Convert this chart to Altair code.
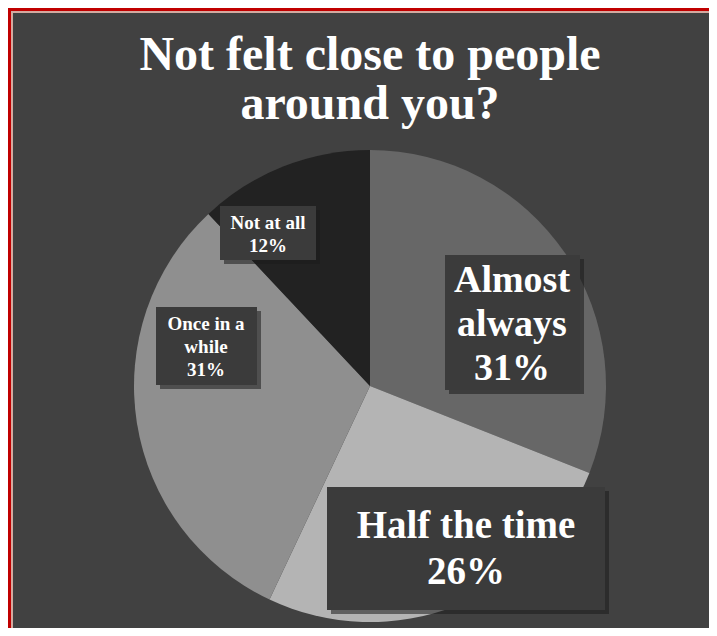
import altair as alt
import pandas as pd

# ---- data ----
categories = ["Almost always", "Half the time", "Once in a while", "Not at all"]
values = [31, 26, 31, 12]
slice_colors = ["#676767", "#b4b4b4", "#8f8f8f", "#222222"]
label_text = ["Almost\nalways", "Half  the time", "Once in a\nwhile", "Not at all"]
title_lines = ["Not felt close to people", "around you?"]

# ---- layout (chart pixel coordinates, page offset 8px) ----
W, H = 701, 620
CX, CY, R = 362, 378, 236
# box: x1, x2, y1, y2 ; text: x, first baseline y, font size, line height
box_layout = {
    "Almost always": (437, 572, 247, 382, 504, 284, 38, 44),
    "Half the time": (319, 597, 479, 602, 458, 530, 39, 46),
    "Once in a while": (148, 249, 299, 377, 198, 322, 19, 23),
    "Not at all": (212, 308, 198, 252, 260, 221, 19, 23),
}

pie_df = pd.DataFrame({
    "category": categories,
    "value": values,
    "idx": list(range(len(categories))),
})

lab_rows = []
for c, v, t in zip(categories, values, label_text):
    x1, x2, y1, y2, tx, ty, fs, lh = box_layout[c]
    lab_rows.append({"category": c, "text": f"{t}\n{v}%", "x1": x1, "x2": x2,
                     "y1": y1, "y2": y2, "tx": tx, "ty": ty, "fs": fs, "lh": lh})
lab_df = pd.DataFrame(lab_rows)

xs = alt.Scale(domain=[0, W], range=[0, W])
ys = alt.Scale(domain=[0, H], range=[0, H])

one = pd.DataFrame({"a": [0]})
red_left = alt.Chart(one).mark_rect(color="#c00000").encode(
    x=alt.value(0), x2=alt.value(3), y=alt.value(0), y2=alt.value(H + 40))
red_top = alt.Chart(one).mark_rect(color="#c00000").encode(
    x=alt.value(0), x2=alt.value(W + 40), y=alt.value(0), y2=alt.value(3))
pink_left = alt.Chart(one).mark_rect(color="#d4aaa0").encode(
    x=alt.value(3), x2=alt.value(5), y=alt.value(3), y2=alt.value(H + 40))
pink_top = alt.Chart(one).mark_rect(color="#d4aaa0").encode(
    x=alt.value(3), x2=alt.value(W + 40), y=alt.value(3), y2=alt.value(5))

pie = alt.Chart(pie_df).mark_arc(outerRadius=R).encode(
    theta=alt.Theta("value:Q", stack=True),
    color=alt.Color("category:N", scale=alt.Scale(domain=categories, range=slice_colors), legend=None),
    order=alt.Order("idx:Q"),
    x=alt.value(CX), y=alt.value(CY),
)

shadow = alt.Chart(lab_df).transform_calculate(
    sx1="datum.x1 + 4", sx2="datum.x2 + 4", sy1="datum.y1 + 4", sy2="datum.y2 + 4"
).mark_rect(color="#1c1c1c", opacity=0.55).encode(
    x=alt.X("sx1:Q", scale=xs, axis=None), x2="sx2:Q",
    y=alt.Y("sy1:Q", scale=ys, axis=None), y2="sy2:Q",
)

boxes = alt.Chart(lab_df).mark_rect(color="#3b3b3b").encode(
    x=alt.X("x1:Q", scale=xs, axis=None), x2="x2:Q",
    y=alt.Y("y1:Q", scale=ys, axis=None), y2="y2:Q",
)

texts = []
for row in lab_rows:
    t = alt.Chart(pd.DataFrame([row])).mark_text(
        font="Liberation Serif", fontWeight="bold", color="white",
        fontSize=row["fs"], lineHeight=row["lh"], lineBreak="\n",
        align="center", baseline="alphabetic",
    ).encode(
        x=alt.X("tx:Q", scale=xs, axis=None),
        y=alt.Y("ty:Q", scale=ys, axis=None),
        text="text:N",
    )
    texts.append(t)

title = alt.Chart(pd.DataFrame({"t": ["\n".join(title_lines)]})).mark_text(
    font="Liberation Serif", fontWeight="bold", color="white", fontSize=48,
    lineHeight=49, lineBreak="\n", align="center", baseline="alphabetic",
).encode(x=alt.value(362), y=alt.value(62), text="t:N")

chart = alt.layer(red_left, red_top, pink_left, pink_top, pie, shadow, boxes, *texts, title).properties(
    width=W, height=H,
    autosize=alt.AutoSizeParams(type="fit", contains="padding"),
    padding=0,
    background="#414141",
).configure_view(strokeWidth=0)

chart.save("out.html", embed_options={"renderer": "svg", "actions": False})
